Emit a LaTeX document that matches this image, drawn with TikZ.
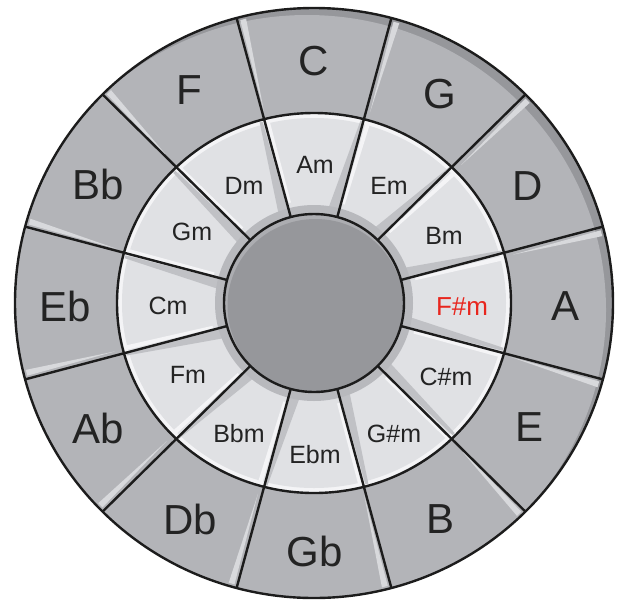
\documentclass[tikz,border=0pt]{standalone}
\usepackage{fontspec}
\setmainfont{Liberation Sans}
\usetikzlibrary{calc}
\definecolor{majorgray}{RGB}{179,180,184}
\definecolor{majorlight}{RGB}{216,217,220}
\definecolor{majordark}{RGB}{150,151,155}
\definecolor{minorgray}{RGB}{224,225,228}
\definecolor{minorlight}{RGB}{244,244,246}
\definecolor{minordark}{RGB}{192,193,197}
\definecolor{centergray}{RGB}{150,151,155}
\definecolor{centerrim}{RGB}{172,173,177}
\definecolor{halogray}{RGB}{184,185,189}
\definecolor{linecol}{RGB}{28,28,28}
\definecolor{textcol}{RGB}{35,35,35}
\definecolor{hilite}{RGB}{232,38,30}
\tikzset{
  ringline/.style={draw=linecol, line width=2.4pt},
  majorlabel/.style={font=\fontsize{42}{42}\selectfont, text=textcol, inner sep=0pt},
  minorlabel/.style={font=\fontsize{25}{25}\selectfont, text=textcol, inner sep=0pt},
}
\begin{document}
\begin{tikzpicture}[x=1pt,y=-1pt]
\useasboundingbox (0,0) rectangle (620,600);
\def\Rox{299}\def\Roy{295}
\def\Rmx{197}\def\Rmy{190}
\def\Rix{90}\def\Riy{89}
\begin{scope}[shift={(314,303)}]
  % outer ring base with dark crescent at top/right
  \begin{scope}
    \clip (0,0) ellipse [x radius=\Rox, y radius=\Roy];
    \fill[majordark] (0,0) ellipse [x radius=\Rox, y radius=\Roy];
    \fill[majorgray] (-7,7) ellipse [x radius=\Rox, y radius=\Roy];
  \end{scope}
  % light strips in the major segments
  \foreach \k in {0,...,11} {
    \pgfmathsetmacro{\angA}{-105+30*\k}
    \pgfmathsetmacro{\angB}{\angA+30}
    \begin{scope}
      \clip (\angA:{\Rmx} and {\Rmy}) -- (\angA:{\Rox} and {\Roy})
        arc[start angle=\angA, end angle=\angB, x radius=\Rox, y radius=\Roy]
        -- (\angB:{\Rmx} and {\Rmy})
        arc[start angle=\angB, end angle=\angA, x radius=\Rmx, y radius=\Rmy] -- cycle;
      \fill[majorlight] ($(\angA:296 and 292)+(\angA+90:3)$)
        -- ($(\angA:205 and 198)+(\angA+90:3)$)
        -- ($(\angA:296 and 292)+(\angA+90:9)$) -- cycle;
    \end{scope}
  }
  % minor ring base with white band along its outer arc
  \begin{scope}
    \clip (0,0) ellipse [x radius=\Rmx, y radius=\Rmy];
    \fill[minorlight] (0,0) ellipse [x radius=\Rmx, y radius=\Rmy];
    \fill[minorgray] (0,0) ellipse [x radius=192, y radius=185];
  \end{scope}
  % light and dark strips in the minor segments
  \foreach \k in {0,...,11} {
    \pgfmathsetmacro{\angA}{-105+30*\k}
    \pgfmathsetmacro{\angB}{\angA+30}
    \begin{scope}
      \clip (\angA:{\Rix} and {\Riy}) -- (\angA:{\Rmx} and {\Rmy})
        arc[start angle=\angA, end angle=\angB, x radius=\Rmx, y radius=\Rmy]
        -- (\angB:{\Rix} and {\Riy})
        arc[start angle=\angB, end angle=\angA, x radius=\Rix, y radius=\Riy] -- cycle;
      \fill[minorlight] ($(\angA:195 and 188)+(\angA+90:1.5)$)
        -- ($(\angA:104 and 103)+(\angA+90:1.5)$)
        -- ($(\angA:104 and 103)+(\angA+90:4)$)
        -- ($(\angA:195 and 188)+(\angA+90:6)$) -- cycle;
      \fill[minordark] ($(\angB:195 and 188)+(\angB-90:1)$)
        -- ($(\angB:95 and 94)+(\angB-90:1)$)
        -- ($(\angB:95 and 94)+(\angB-90:11)$)
        -- ($(\angB:195 and 188)+(\angB-90:4)$) -- cycle;
    \end{scope}
  }
  % halo around the centre
  \fill[halogray] (0,0) ellipse [x radius=99, y radius=98];
  % centre disc
  \fill[centerrim] (0,0) ellipse [x radius=\Rix, y radius=\Riy];
  \begin{scope}
    \clip (0,0) ellipse [x radius=\Rix, y radius=\Riy];
    \fill[centergray] (1.5,3) ellipse [x radius=88, y radius=87];
  \end{scope}
  % dividing lines
  \foreach \k in {0,...,11} {
    \pgfmathsetmacro{\angA}{15+30*\k}
    \draw[ringline] (\angA:{\Rix} and {\Riy}) -- (\angA:{\Rox} and {\Roy});
  }
  \draw[ringline] (0,0) ellipse [x radius=\Rox, y radius=\Roy];
  \draw[ringline] (0,0) ellipse [x radius=\Rmx, y radius=\Rmy];
  \draw[ringline] (0,0) ellipse [x radius=\Rix, y radius=\Riy];
\end{scope}
% major keys
\foreach \t/\x/\y [count=\i] in {C/314/61, G/440/94, D/528/186, A/565/306, E/529/427, B/440/519, Gb/315/551, Db/190/519, Ab/98/428, Eb/65/306, Bb/98/184, F/189/90}
  \node[majorlabel] (maj\i) at (\x,\y) {\t};
% minor keys
\foreach \t/\x/\y [count=\i] in {Am/315/165, Em/389/186, Bm/444/236, C\#m/446/377, G\#m/394/434, Ebm/315/455, Bbm/239/434, Fm/188/375, Cm/168/306, Gm/192/232, Dm/244/186}
  \node[minorlabel] (min\i) at (\x,\y) {\t};
\node[minorlabel, text=hilite, font=\fontsize{26}{26}\selectfont] (minFsharp) at (462,307) {F\#m};
\end{tikzpicture}
\end{document}
